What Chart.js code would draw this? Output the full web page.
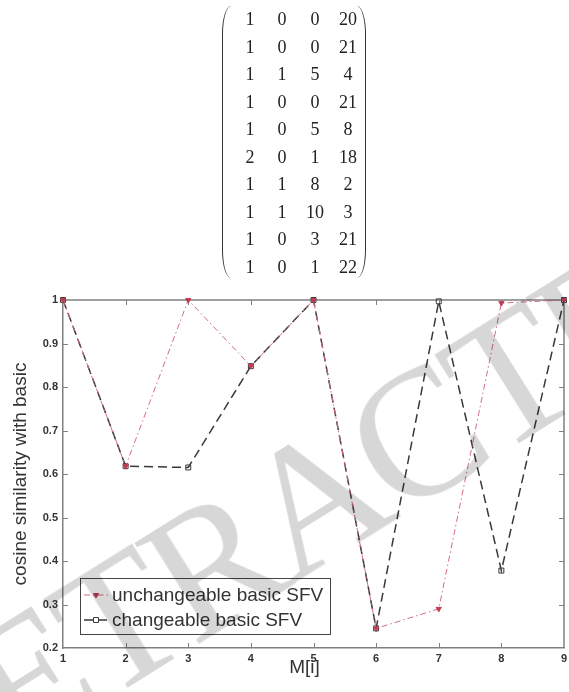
<!DOCTYPE html>
<html>
<head>
<meta charset="utf-8">
<script src="https://cdn.jsdelivr.net/npm/chart.js@4"></script>
<style>
  html, body { margin: 0; padding: 0; background: #fff; }
  body { width: 569px; height: 692px; position: relative; overflow: hidden; }
  #chart { position: absolute; left: 0; top: 0; }
  .cell { position: absolute; font-family: "Liberation Serif", serif; font-size: 18px; color: #222; transform: translate(-50%, -50%); }
  .paren { position: absolute; top: 6px; height: 272px; width: 9px; }
  .paren.l { left: 222px; border-left: 1.5px solid #333; border-radius: 9px 0 0 9px / 28px 0 0 28px; }
  .paren.r { left: 356px; border-right: 1.5px solid #333; border-radius: 0 9px 9px 0 / 0 28px 28px 0; }
  #mark { position: absolute; left: 316px; top: 498px; transform: translate(-50%, -50%) rotate(-32deg);
    font-family: "Liberation Serif", serif; font-size: 182px; line-height: 1; color: #d7d7d7;
    letter-spacing: -6px; mix-blend-mode: multiply; white-space: nowrap; pointer-events: none; }
</style>
</head>
<body>
<canvas id="chart" width="569" height="692"></canvas>
<div id="matrix"></div>
<div id="mark">RETRACTED</div>
<script>
// data
var xValues = [1, 2, 3, 4, 5, 6, 7, 8, 9];
var unchangeable = [1.0, 0.618, 1.0, 0.848, 1.0, 0.245, 0.29, 0.993, 1.0];
var changeable = [1.0, 0.618, 0.615, 0.848, 1.0, 0.245, 0.997, 0.378, 1.0];
var xTickLabels = ['1', '2', '3', '4', '5', '6', '7', '8', '9'];
var yTickLabels = ['0.2', '0.3', '0.4', '0.5', '0.6', '0.7', '0.8', '0.9', '1'];
var seriesNames = ['unchangeable basic SFV', 'changeable basic SFV'];
var matrixRows = [
  [1, 0, 0, 20], [1, 0, 0, 21], [1, 1, 5, 4], [1, 0, 0, 21], [1, 0, 5, 8],
  [2, 0, 1, 18], [1, 1, 8, 2], [1, 1, 10, 3], [1, 0, 3, 21], [1, 0, 1, 22]
];

// matrix above the chart
var m = document.getElementById('matrix');
var colX = [250, 282, 315, 348];
matrixRows.forEach(function(row, r) {
  row.forEach(function(v, c) {
    var s = document.createElement('span');
    s.className = 'cell';
    s.textContent = v;
    s.style.left = colX[c] + 'px';
    s.style.top = (19 + r * 27.5) + 'px';
    m.appendChild(s);
  });
});
m.insertAdjacentHTML('beforeend', '<div class="paren l"></div><div class="paren r"></div>');

var redLine = '#d46c7b';
var redMark = '#c23b52';
var dark = '#383838';
var axisColor = '#808080';
var textFont = 'Liberation Sans';

function pts(vals) {
  return xValues.map(function(x, i) { return { x: x, y: vals[i] }; });
}

// box with inward ticks, matlab style
var boxPlugin = {
  id: 'box',
  beforeDatasetsDraw: function(chart) {
    var ctx = chart.ctx, a = chart.chartArea;
    var xs = chart.scales.x, ys = chart.scales.y;
    ctx.save();
    ctx.strokeStyle = axisColor;
    ctx.lineWidth = 1.5;
    ctx.beginPath();
    ctx.moveTo(a.left, a.top); ctx.lineTo(a.right, a.top);
    ctx.moveTo(a.right, a.top); ctx.lineTo(a.right, a.bottom);
    ctx.stroke();
    ctx.lineWidth = 1;
    ctx.beginPath();
    xs.ticks.forEach(function(t, i) {
      if (i == 0 || i == xs.ticks.length - 1) return;
      var px = Math.round(xs.getPixelForValue(t.value)) + 0.5;
      ctx.moveTo(px, a.bottom); ctx.lineTo(px, a.bottom - 5);
      ctx.moveTo(px, a.top); ctx.lineTo(px, a.top + 5);
    });
    ys.ticks.forEach(function(t, i) {
      if (i == 0 || i == ys.ticks.length - 1) return;
      var py = Math.round(ys.getPixelForValue(t.value)) + 0.5;
      ctx.moveTo(a.left, py); ctx.lineTo(a.left + 5, py);
      ctx.moveTo(a.right, py); ctx.lineTo(a.right - 5, py);
    });
    ctx.stroke();
    // x axis title, sits a bit left of centre in the original
    ctx.fillStyle = '#333';
    ctx.font = '19px "' + textFont + '"';
    ctx.textAlign = 'center';
    ctx.textBaseline = 'middle';
    ctx.fillText('M[i]', (a.left + a.right) / 2 - 9, a.bottom + 20);
    ctx.restore();
  }
};

var legendPlugin = {
  id: 'boxLegend',
  afterDraw: function(chart) {
    var ctx = chart.ctx, a = chart.chartArea;
    var lx = a.left + 17, ly = a.bottom - 70, w = 250, h = 56;
    ctx.save();
    ctx.fillStyle = '#fff';
    ctx.fillRect(lx, ly, w, h);
    ctx.strokeStyle = '#444';
    ctx.lineWidth = 1;
    ctx.strokeRect(lx + 0.5, ly + 0.5, w, h);
    chart.data.datasets.forEach(function(ds, i) {
      var cy = ly + 17 + i * 25;
      ctx.strokeStyle = ds.borderColor;
      ctx.lineWidth = ds.borderWidth;
      ctx.setLineDash(ds.borderDash);
      ctx.beginPath();
      ctx.moveTo(lx + 4, cy); ctx.lineTo(lx + 28, cy);
      ctx.stroke();
      ctx.setLineDash([]);
      ctx.fillStyle = i == 0 ? ds.pointBackgroundColor : '#fff';
      ctx.strokeStyle = ds.pointBorderColor;
      ctx.lineWidth = 1;
      Chart.helpers.drawPoint(ctx, {
        pointStyle: ds.pointStyle, rotation: ds.rotation, radius: ds.pointRadius,
        borderWidth: 1
      }, lx + 16, cy);
      ctx.fillStyle = '#333';
      ctx.font = '19px "' + textFont + '"';
      ctx.textAlign = 'left';
      ctx.textBaseline = 'middle';
      ctx.fillText(seriesNames[i], lx + 32, cy + 1);
    });
    ctx.restore();
  }
};

var ctx = document.getElementById('chart').getContext('2d');

var chart = new Chart(ctx, {
  type: 'line',
  data: {
    datasets: [{
      label: seriesNames[0],
      data: pts(unchangeable),
      borderColor: redLine,
      backgroundColor: redMark,
      borderWidth: 1,
      borderDash: [6, 3, 1.5, 3],
      pointStyle: 'triangle',
      rotation: 180,
      pointRadius: 3,
      pointBackgroundColor: redMark,
      pointBorderColor: redMark,
      clip: false
    },
    {
      label: seriesNames[1],
      data: pts(changeable),
      borderColor: dark,
      backgroundColor: 'rgba(0,0,0,0)',
      borderWidth: 1.5,
      borderDash: [9, 5],
      pointStyle: 'rect',
      rotation: 0,
      pointRadius: 3.5,
      pointBackgroundColor: 'rgba(0,0,0,0)',
      pointBorderColor: dark,
      pointBorderWidth: 1,
      clip: false
    }]
  },
  options: {
    responsive: false,
    animation: false,
    layout: { padding: { top: 300, right: 2, left: 0, bottom: 0 } },
    plugins: { legend: { display: false }, tooltip: { enabled: false } },
    scales: {
      x: {
        type: 'linear', min: 1, max: 9,
        afterFit: function(s) { s.height = 44; s.paddingLeft = 0; s.paddingRight = 0; },
        grid: { display: false, drawTicks: false },
        border: { display: true, color: axisColor, width: 1.5 },
        ticks: {
          stepSize: 1, padding: 4, color: '#333',
          font: { family: textFont, size: 11, weight: 'bold' },
          callback: function(v) { return xTickLabels[v - 1]; }
        }
      },
      y: {
        min: 0.2, max: 1,
        afterFit: function(s) { s.width = 63; s.paddingTop = 0; s.paddingBottom = 0; },
        grid: { display: false, drawTicks: false },
        border: { display: true, color: axisColor, width: 1.5 },
        ticks: {
          stepSize: 0.1, padding: 5, color: '#333',
          font: { family: textFont, size: 11, weight: 'bold' },
          callback: function(v) { return yTickLabels[Math.round(v * 10) - 2]; }
        },
        title: { display: true, text: 'cosine similarity with basic', color: '#333', font: { family: textFont, size: 19 }, padding: { top: 9, bottom: 0 } }
      }
    }
  },
  plugins: [boxPlugin, legendPlugin]
});
</script>
</body>
</html>
